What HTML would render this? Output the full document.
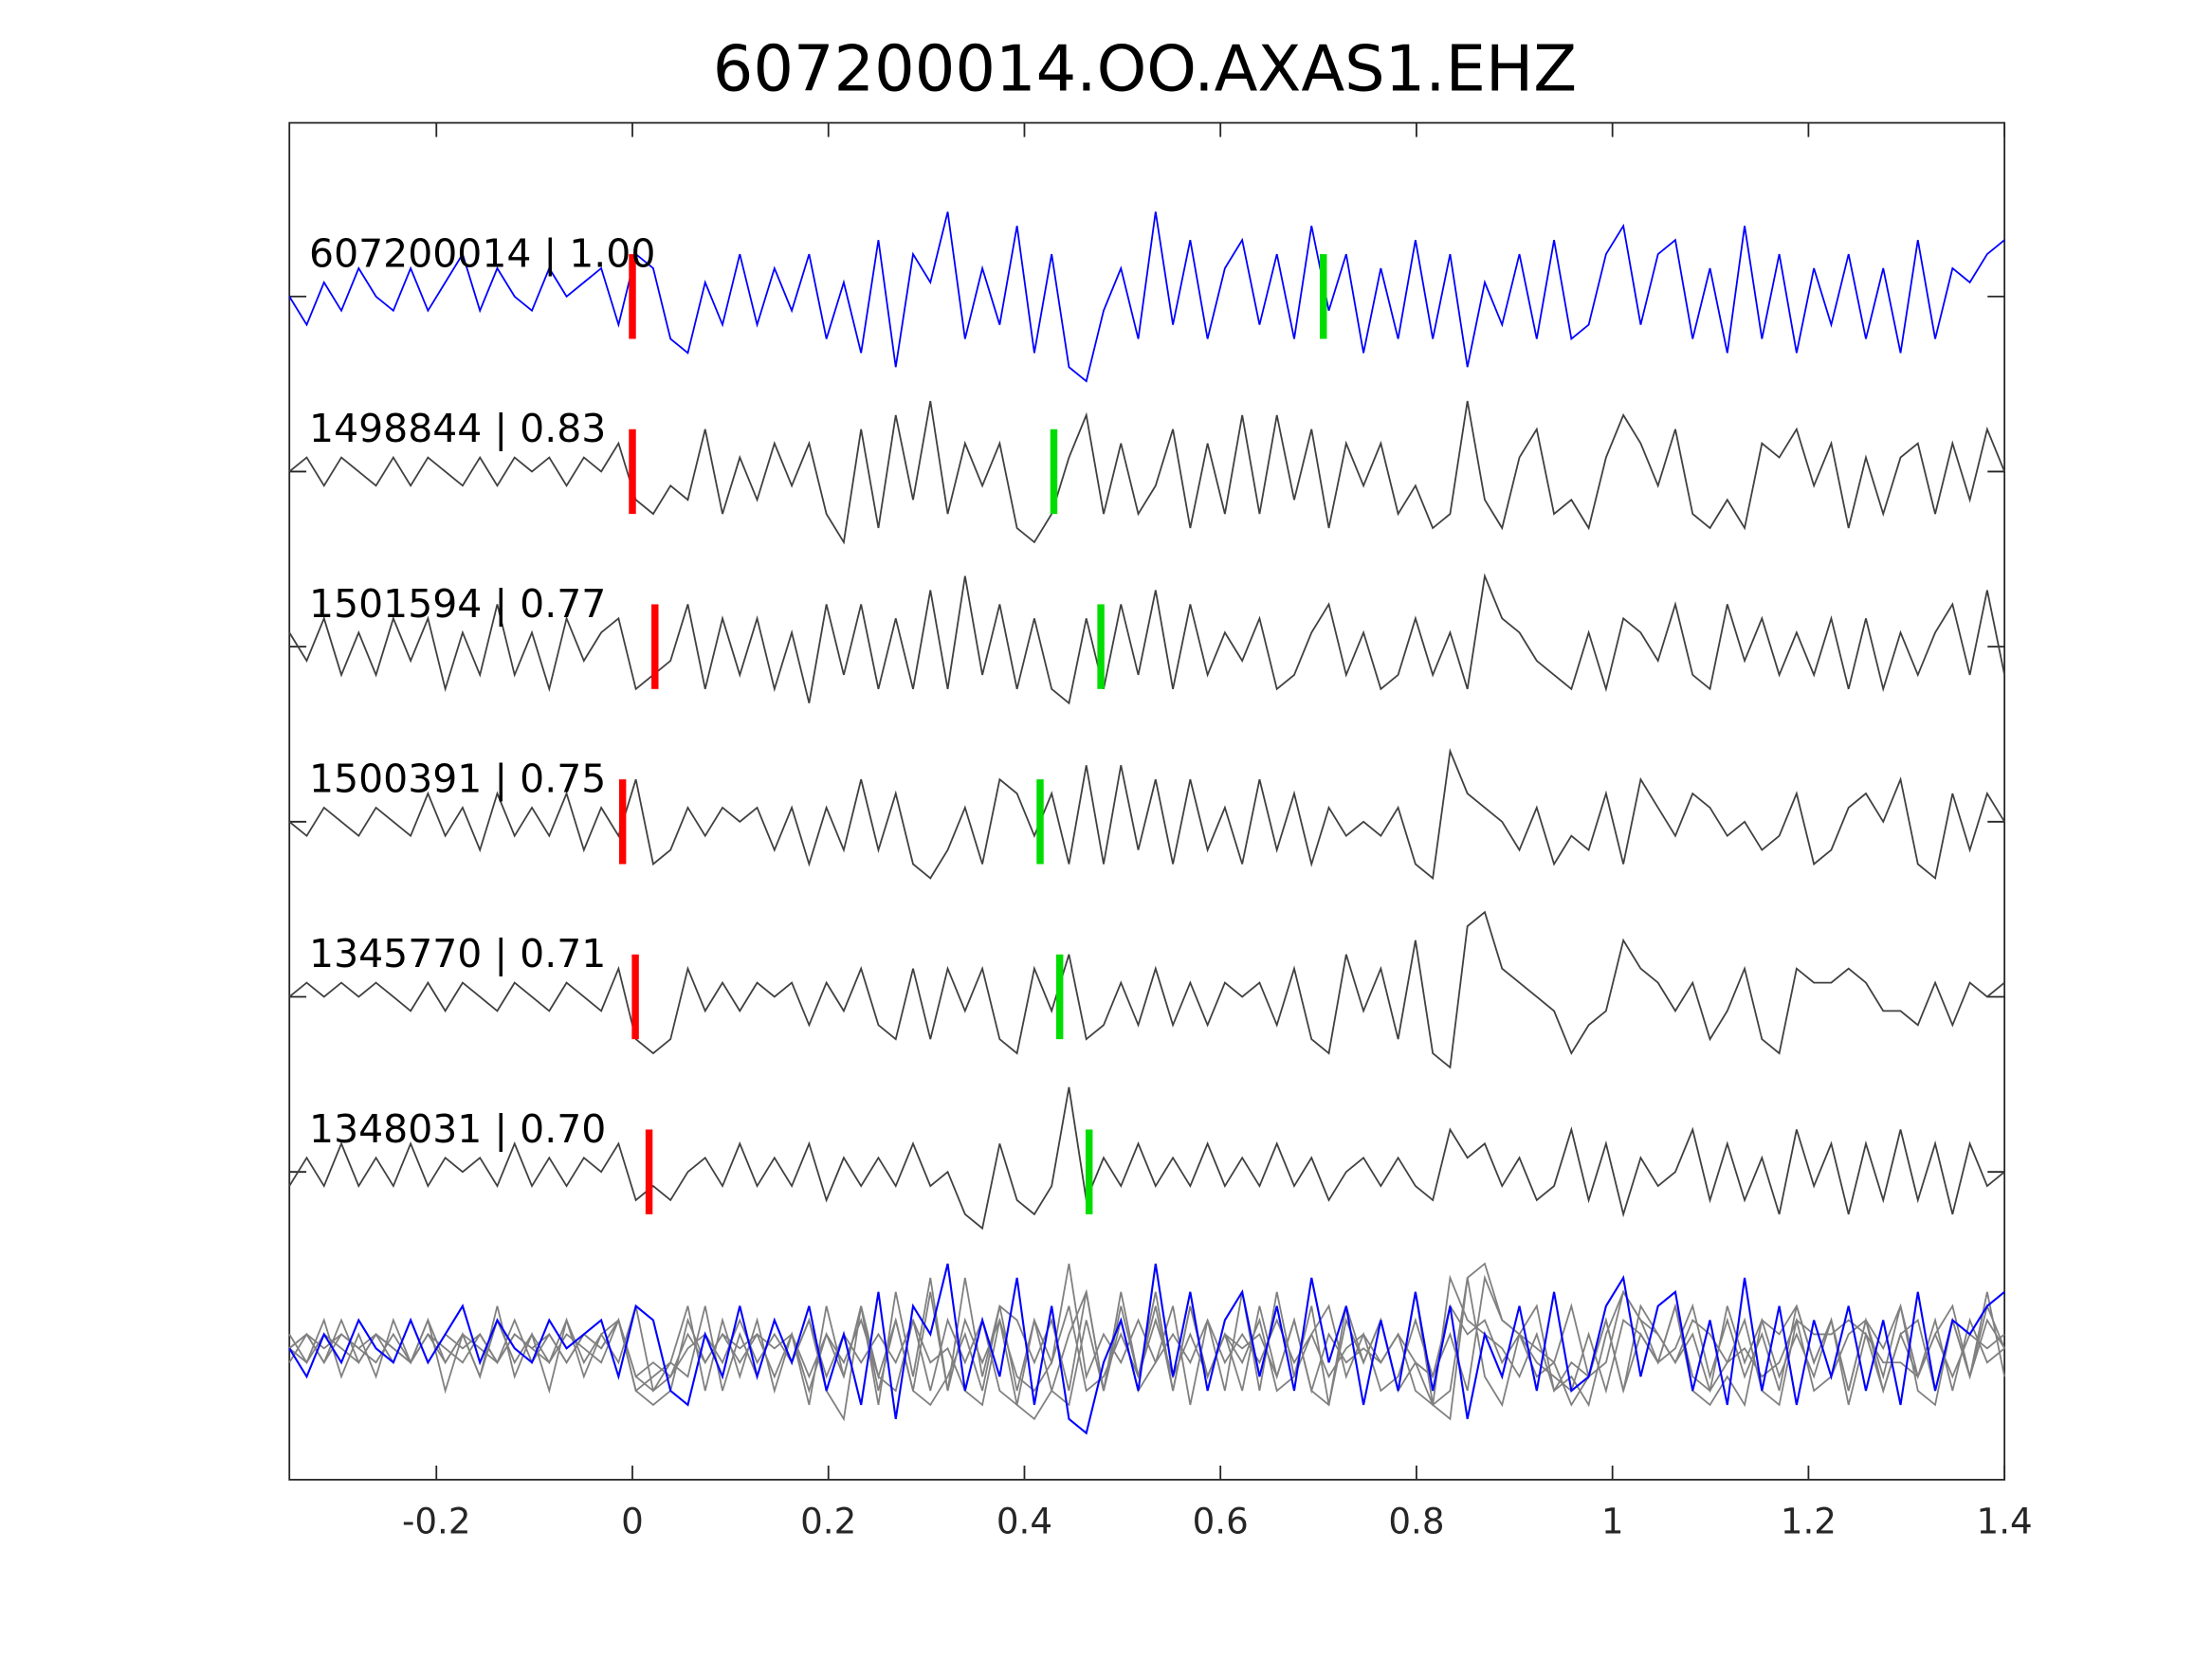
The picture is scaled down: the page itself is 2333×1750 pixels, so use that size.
<!DOCTYPE html>
<html><head><meta charset="utf-8"><style>
html,body{margin:0;padding:0;background:#fff;}
svg{display:block;font-family:"DejaVu Sans","Liberation Sans",sans-serif;}
</style></head><body>
<svg id="chart" width="2333" height="1750" viewBox="0 0 1567 1175" preserveAspectRatio="none" xmlns="http://www.w3.org/2000/svg">
<rect x="0" y="0" width="1567" height="1175" fill="#fff"/>
<text x="811" y="64" font-size="45" text-anchor="middle" fill="#000">607200014.OO.AXAS1.EHZ</text>
<g id="plot"></g>
</svg>
<script>
const xTicks = [-0.2, 0, 0.2, 0.4, 0.6, 0.8, 1, 1.2, 1.4];
const xTickLabels = ["-0.2", "0", "0.2", "0.4", "0.6", "0.8", "1", "1.2", "1.4"];
const traceNames = ["607200014 | 1.00", "1498844 | 0.83", "1501594 | 0.77", "1500391 | 0.75", "1345770 | 0.71", "1348031 | 0.70"];
const redPicks = [0.0, 0.0, 0.023, -0.01, 0.003, 0.017];
const greenPicks = [0.705, 0.43, 0.478, 0.416, 0.436, 0.466];
const t1 = [0,-2,1,-1,2,0,-1,2,-1,1,3,-1,2,0,-1,2,0,1,2,-2,3,2,-3,-4,1,-2,3,-2,2,-1,3,-3,1,-4,4,-5,3,1,6,-3,2,-2,5,-4,3,-5,-6,-1,2,-3,6,-2,4,-3,2,4,-2,3,-3,5,-1,3,-4,2,-3,4,-3,3,-5,1,-2,3,-3,4,-3,-2,3,5,-2,3,4,-3,2,-4,5,-3,3,-4,2,-2,3,-3,2,-4,4,-3,2,1,3,4];
const t2 = [0,1,-1,1,0,-1,1,-1,1,0,-1,1,-1,1,0,1,-1,1,0,2,-2,-3,-1,-2,3,-3,1,-2,2,-1,2,-3,-5,3,-4,4,-2,5,-3,2,-1,2,-4,-5,-3,1,4,-3,2,-3,-1,3,-4,2,-3,4,-3,4,-2,3,-4,2,-1,2,-3,-1,-4,-3,5,-2,-4,1,3,-3,-2,-4,1,4,2,-1,3,-3,-4,-2,-4,2,1,3,-1,2,-4,1,-3,1,2,-3,2,-2,3,0];
const t3 = [1,-1,2,-2,1,-2,2,-1,2,-3,1,-2,3,-2,1,-3,2,-1,1,2,-3,-2,-1,3,-3,2,-2,2,-3,1,-4,3,-2,3,-3,2,-3,4,-3,5,-2,3,-3,2,-3,-4,2,-3,3,-2,4,-3,3,-2,1,-1,2,-3,-2,1,3,-2,1,-3,-2,2,-2,1,-3,5,2,1,-1,-2,-3,1,-3,2,1,-1,3,-2,-3,3,-1,2,-2,1,-2,2,-3,2,-3,1,-2,1,3,-2,4,-2];
const t4 = [0,-1,1,0,-1,1,0,-1,2,-1,1,-2,2,-1,1,-1,2,-2,1,-1,3,-3,-2,1,-1,1,0,1,-2,1,-3,1,-2,3,-2,2,-3,-4,-2,1,-3,3,2,-1,2,-3,4,-3,4,-2,3,-3,3,-2,1,-3,3,-2,2,-3,1,-1,0,-1,1,-3,-4,5,2,1,0,-2,1,-3,-1,-2,2,-3,3,1,-1,2,1,-1,0,-2,-1,2,-3,-2,1,2,0,3,-3,-4,2,-2,2,0];
const t5 = [0,1,0,1,0,1,0,-1,1,-1,1,0,-1,1,0,-1,1,0,-1,2,-3,-4,-3,2,-1,1,-1,1,0,1,-2,1,-1,2,-2,-3,2,-3,2,-1,2,-3,-4,2,-1,3,-3,-2,1,-2,2,-2,1,-2,1,0,1,-2,2,-3,-4,3,-1,2,-3,4,-4,-5,5,6,2,1,0,-1,-4,-2,-1,4,2,1,-1,1,-3,-1,2,-3,-4,2,1,1,2,1,-1,-1,-2,1,-2,1,0,1];
const t6 = [-1,1,-1,2,-1,1,-1,2,-1,1,0,1,-1,2,-1,1,-1,1,0,2,-2,-1,-2,0,1,-1,2,-1,1,-1,2,-2,1,-1,1,-1,2,-1,0,-3,-4,2,-2,-3,-1,6,-2,1,-1,2,-1,1,-1,2,-1,1,-1,2,-1,1,-2,0,1,-1,1,-1,-2,3,1,2,-1,1,-2,-1,3,-2,2,-3,1,-1,0,3,-2,2,-2,1,-3,3,-1,2,-3,2,-2,3,-2,2,-3,2,-1,0];
const traces = [t1, t2, t3, t4, t5, t6];

const L = 205, R = 1420, T = 87, B = 1048;
const tMin = -0.35, tMax = 1.4;
const baselines = [210, 334, 458, 582, 706, 830];
const stackBase = 955;
const ampScale = 10;
const xs = t => L + (t - tMin) / (tMax - tMin) * (R - L);
const ys = (v, base) => base - v * ampScale;
const NS = "http://www.w3.org/2000/svg";
const plot = document.getElementById('plot');
function mk(tag, attrs) { const e = document.createElementNS(NS, tag); for (const k in attrs) e.setAttribute(k, attrs[k]); plot.appendChild(e); return e; }
function pathFor(arr, base) {
  const n = arr.length;
  return arr.map((v, i) => (i ? 'L' : 'M') + xs(tMin + i * (tMax - tMin) / (n - 1)).toFixed(2) + ',' + ys(v, base).toFixed(2)).join(' ');
}

const box = mk('rect', {x: L, y: T, width: R - L, height: B - T, fill: 'none', stroke: '#262626', 'stroke-width': 1.2});



xTicks.forEach((v, i) => {
  const x = xs(v);
  const tk = mk('path', {d: `M${x},${B} L${x},${B - 10} M${x},${T} L${x},${T + 10}`, stroke: '#262626', 'stroke-width': 1.2});
  
  
  const lb = mk('text', {x: x, y: B + 38, 'font-size': 25, 'text-anchor': 'middle', fill: '#262626'});
  lb.textContent = xTickLabels[i];
  
  
});

baselines.forEach(b => {
  const tk = mk('path', {d: `M${L},${b} L${L + 12},${b} M${R},${b} L${R - 12},${b}`, stroke: '#262626', 'stroke-width': 1.2});
  
  
});

traces.forEach((arr, i) => {
  const p = mk('path', {d: pathFor(arr, baselines[i]), fill: 'none', stroke: i === 0 ? '#0000ff' : '#404040', 'stroke-width': 1.2});
  
  
  const r = mk('rect', {x: xs(redPicks[i]) - 2.5, y: baselines[i] - 30, width: 5, height: 60, fill: '#ff0000'});
  
  
  const g = mk('rect', {x: xs(greenPicks[i]) - 2.5, y: baselines[i] - 30, width: 5, height: 60, fill: '#00dd00'});
  
  
  const lb = mk('text', {x: 219, y: baselines[i] - 21, 'font-size': 27.5, fill: '#000'});
  lb.textContent = traceNames[i];
  
  
});

for (let i = 1; i < traces.length; i++) {
  const p = mk('path', {d: pathFor(traces[i], stackBase), fill: 'none', stroke: '#808080', 'stroke-width': 1.2});
  
  
}
const sb = mk('path', {d: pathFor(traces[0], stackBase), fill: 'none', stroke: '#0000ff', 'stroke-width': 1.4});


</script>
</body></html>
